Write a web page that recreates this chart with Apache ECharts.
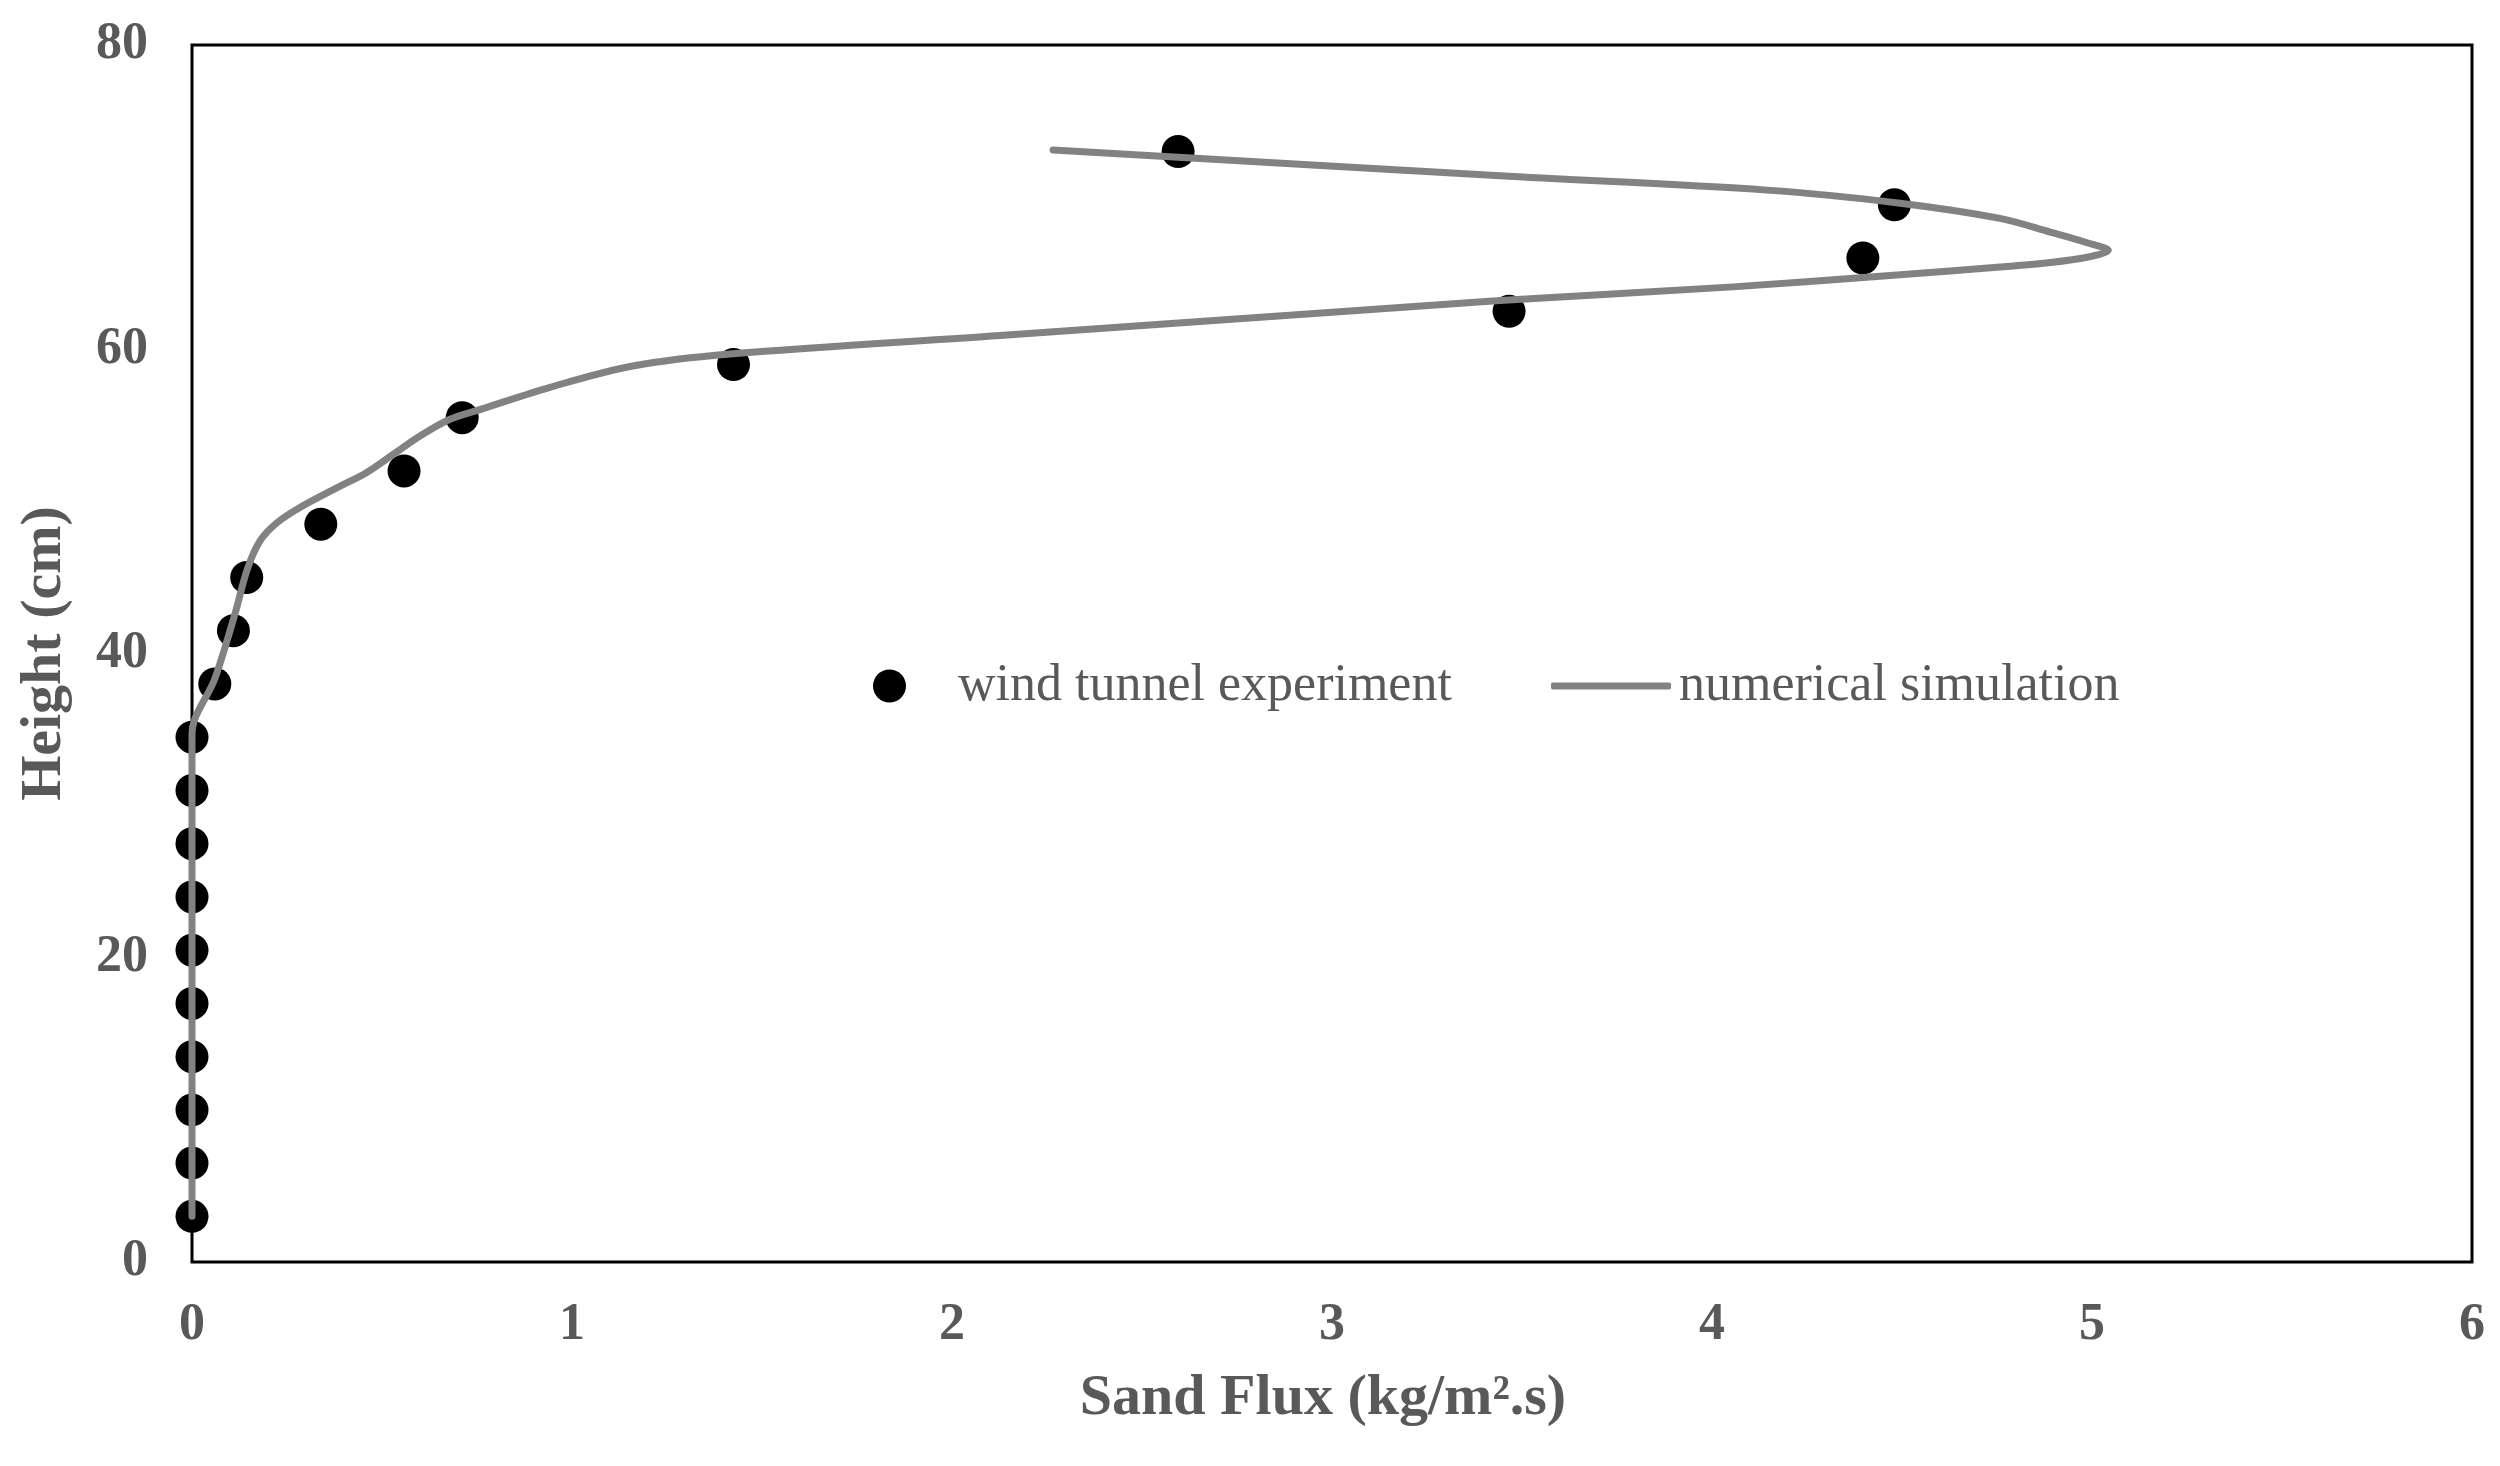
<!DOCTYPE html>
<html>
<head>
<meta charset="utf-8">
<script src="https://cdn.jsdelivr.net/npm/echarts@6/dist/echarts.min.js"></script>
<style>
  html, body { margin: 0; padding: 0; background: #ffffff; }
  #chart { width: 2500px; height: 1466px; }
</style>
</head>
<body>
<div id="chart"></div>
<script>
// Wind tunnel experiment (markers)
const expFlux   = [0, 0, 0, 0, 0, 0, 0, 0, 0, 0, 0.06, 0.109, 0.144, 0.339, 0.558, 0.711, 1.425, 3.466, 4.397, 4.48, 2.595];
const expHeight = [3, 6.5, 10, 13.5, 17, 20.5, 24, 27.5, 31, 34.5, 38, 41.5, 45, 48.5, 52, 55.5, 59, 62.5, 66, 69.5, 73];

// Numerical simulation (smoothed line) from bottom to top
const simFlux   = [0, 0, 0.061, 0.113, 0.145, 0.179, 0.224, 0.284, 0.382, 0.46, 0.53, 0.6, 0.679, 0.766, 0.942, 1.16, 1.424, 2.126, 3.442, 4.055, 4.495, 4.758, 4.89, 4.987, 5.043, 4.987, 4.89, 4.758, 4.495, 4.145, 3.442, 2.266];
const simHeight = [3, 34.7, 38.4, 42.6, 45.5, 47.4, 48.6, 49.6, 50.9, 51.9, 53.1, 54.3, 55.4, 56.1, 57.5, 58.9, 59.7, 60.9, 63.2, 64.1, 64.9, 65.4, 65.7, 66.05, 66.5, 67.0, 67.7, 68.6, 69.6, 70.46, 71.4, 73.1];

// Axis ticks
const xTicks = [0, 1, 2, 3, 4, 5, 6];
const yTicks = [0, 20, 40, 60, 80];

const seriesNames = ['wind tunnel experiment', 'numerical simulation'];
const xTitle = 'Sand Flux (kg/m\u00B2.s)';
const yTitle = 'Height (cm)';

const FONT = 'Liberation Serif';
const GREY_TEXT = '#595959';

const chart = echarts.init(document.getElementById('chart'), null, { renderer: 'canvas' });

const option = {
  backgroundColor: '#ffffff',
  animation: false,
  grid: {
    left: 192, right: 28, top: 45, bottom: 204,
    show: true, borderColor: '#000000', borderWidth: 3, backgroundColor: 'transparent'
  },
  xAxis: {
    type: 'value',
    min: xTicks[0], max: xTicks[xTicks.length - 1], interval: 1,
    axisLine: { show: false },
    axisTick: { show: false },
    splitLine: { show: false },
    axisLabel: { color: GREY_TEXT, fontFamily: FONT, fontWeight: 'bold', fontSize: 52, margin: 38 },
    name: xTitle,
    nameLocation: 'middle',
    nameGap: 108,
    nameTextStyle: { color: GREY_TEXT, fontFamily: FONT, fontWeight: 'bold', fontSize: 58, padding: [0, 18, 0, 0] }
  },
  yAxis: {
    type: 'value',
    min: yTicks[0], max: yTicks[yTicks.length - 1], interval: 20,
    axisLine: { show: false },
    axisTick: { show: false },
    splitLine: { show: false },
    axisLabel: { color: GREY_TEXT, fontFamily: FONT, fontWeight: 'bold', fontSize: 52, margin: 44 },
    name: yTitle,
    nameLocation: 'middle',
    nameGap: 118,
    nameRotate: 90,
    nameTextStyle: { color: GREY_TEXT, fontFamily: FONT, fontWeight: 'bold', fontSize: 58 }
  },
  legend: [
    {
      data: [{ name: seriesNames[0], icon: 'circle' }],
      left: 868, top: 655,
      itemWidth: 33, itemHeight: 33,
      textStyle: { color: GREY_TEXT, fontFamily: FONT, fontSize: 52, padding: [0, 0, 0, 47] }
    },
    {
      data: [{ name: seriesNames[1], icon: 'roundRect' }],
      left: 1546, top: 655,
      itemWidth: 120, itemHeight: 7,
      textStyle: { color: GREY_TEXT, fontFamily: FONT, fontSize: 52, padding: [0, 0, 0, 3] }
    }
  ],
  series: [
    {
      name: seriesNames[0],
      type: 'scatter',
      data: expFlux.map((v, i) => [v, expHeight[i]]),
      symbol: 'circle',
      symbolSize: 33,
      itemStyle: { color: '#000000', opacity: 1 },
      z: 2
    },
    {
      name: seriesNames[1],
      type: 'line',
      data: simFlux.map((v, i) => [v, simHeight[i]]),
      smooth: 0.33,
      showSymbol: false,
      symbol: 'none',
      clip: false,
      itemStyle: { color: '#828282' },
      lineStyle: { color: '#828282', width: 7, cap: 'round', join: 'round' },
      z: 3
    }
  ]
};

chart.setOption(option);
</script>
</body>
</html>
